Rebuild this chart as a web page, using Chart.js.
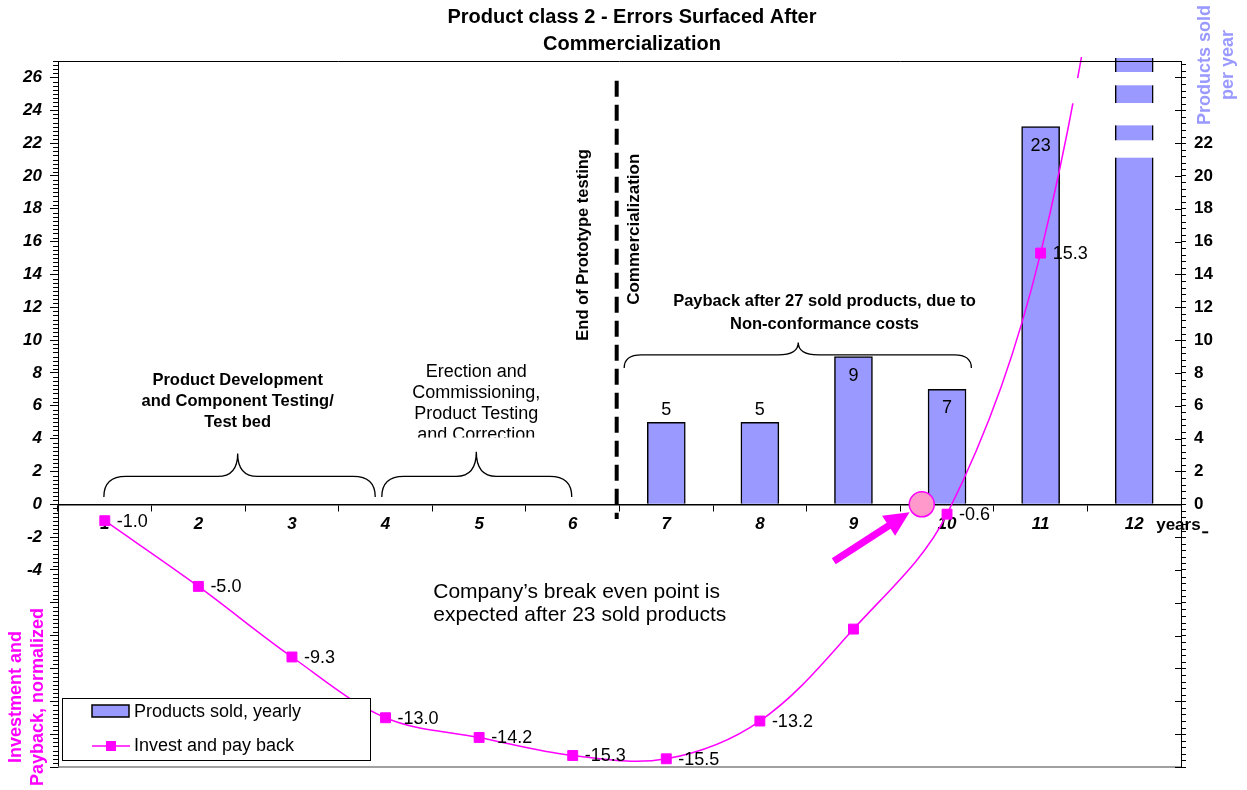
<!DOCTYPE html>
<html>
<head>
<meta charset="utf-8">
<script src="https://cdn.jsdelivr.net/npm/chart.js@4.4.1/dist/chart.umd.min.js"></script>
<style>
  html, body { margin: 0; padding: 0; background: #fff; }
  #wrap { width: 1247px; height: 790px; position: relative; }
</style>
</head>
<body>
<div id="wrap"><canvas id="chart" width="1247" height="790"></canvas></div>
<script>
// ---- data ----
const years = ['1', '2', '3', '4', '5', '6', '7', '8', '9', '10', '11', '12'];
const productsSold = [null, null, null, null, null, null, 5, 5, 9, 7, 23, 40];
const investPayback = [-1.0, -5.0, -9.3, -13.0, -14.2, -15.3, -15.5, -13.2, -7.6, -0.6, 15.3, 46];
const unlabelledYears = ['9', '12'];
const majorTicks = [-16, -14, -12, -10, -8, -6, -4, -2, 0, 2, 4, 6, 8, 10, 12, 14, 16, 18, 20, 22, 24, 26];
const leftAxisLabels = [-4, -2, 0, 2, 4, 6, 8, 10, 12, 14, 16, 18, 20, 22, 24, 26];
const rightAxisLabels = [0, 2, 4, 6, 8, 10, 12, 14, 16, 18, 20, 22];
const breakEvenYear = 9.73;

const FONT = "'Liberation Sans', Arial, Helvetica, sans-serif";
const MAGENTA = '#ff00ff';
const BAR_FILL = '#9999ff';

Chart.defaults.font.family = FONT;
Chart.defaults.color = '#000';

function drawText(ctx, s, x, y, font, color, align, baseline) {
  ctx.font = font;
  ctx.fillStyle = color || '#000';
  ctx.textAlign = align || 'center';
  ctx.textBaseline = baseline || 'middle';
  ctx.fillText(s, x, y);
}

function drawRotated(ctx, s, x, y, font, color) {
  ctx.save();
  ctx.translate(x, y);
  ctx.rotate(-Math.PI / 2);
  drawText(ctx, s, 0, 0, font, color, 'center', 'middle');
  ctx.restore();
}

// curly brace opening downwards, tip pointing up
function drawBrace(ctx, x1, x2, tipX, yBase, yMid, yTip) {
  const r = Math.min(22, (yBase - yMid) + 4);
  ctx.beginPath();
  ctx.moveTo(x1, yBase);
  ctx.quadraticCurveTo(x1, yMid, x1 + r, yMid);
  ctx.lineTo(tipX - 20, yMid);
  ctx.quadraticCurveTo(tipX, yMid, tipX, yTip);
  ctx.quadraticCurveTo(tipX, yMid, tipX + 20, yMid);
  ctx.lineTo(x2 - r, yMid);
  ctx.quadraticCurveTo(x2, yMid, x2, yBase);
  ctx.strokeStyle = '#000';
  ctx.lineWidth = 1.3;
  ctx.stroke();
}

const overlay = {
  id: 'overlay',
  afterDraw(chart) {
    const { ctx, chartArea: ca, scales } = chart;
    const xs = scales.x, ys = scales.y, ys1 = scales.y1;
    const step = xs.getPixelForValue(1) - xs.getPixelForValue(0);
    const xAt = pos => xs.getPixelForValue(0) + (pos - 1) * step;
    const yAt = v => ys.getPixelForValue(v);

    ctx.save();

    // frame: top black, bottom grey
    ctx.lineWidth = 1;
    ctx.strokeStyle = '#000';
    ctx.beginPath(); ctx.moveTo(ca.left, ca.top + 0.5); ctx.lineTo(ca.right, ca.top + 0.5); ctx.stroke();
    ctx.strokeStyle = '#808080';
    ctx.lineWidth = 1.5;
    ctx.beginPath(); ctx.moveTo(ca.left, ca.bottom); ctx.lineTo(ca.right, ca.bottom); ctx.stroke();

    // minor ticks
    ctx.strokeStyle = '#000';
    ctx.lineWidth = 1;
    for (let v = ys.min; v <= ys.max + 1e-6; v += 0.25) {
      if (Math.abs(v / 2 - Math.round(v / 2)) < 1e-6) continue;
      const py = Math.round(yAt(v)) + 0.5;
      ctx.beginPath(); ctx.moveTo(ca.left - 5, py); ctx.lineTo(ca.left, py); ctx.stroke();
    }
    for (let k = 0; ys1.min + k * 0.4 <= ys1.max + 1e-6; k++) {
      const v = ys1.min + k * 0.4;
      const py = Math.round(ys1.getPixelForValue(v)) + 0.5;
      if (k % 5 === 0) {
        ctx.beginPath(); ctx.moveTo(ca.right - 6, py); ctx.lineTo(ca.right, py); ctx.stroke();
      } else {
        ctx.beginPath(); ctx.moveTo(ca.right, py); ctx.lineTo(ca.right + 5, py); ctx.stroke();
      }
    }

    // broken bar / broken line marks for the out-of-range last year
    const barMeta = chart.getDatasetMeta(1);
    const lastBar = barMeta.data[11];
    ctx.fillStyle = '#fff';
    [[26.33, 25.52], [24.44, 23.08], [22.17, 21.11]].forEach(([a, b]) => {
      const top = ys1.getPixelForValue(a), bot = ys1.getPixelForValue(b);
      ctx.fillRect(lastBar.x - lastBar.width / 2 - 2, top, lastBar.width + 4, bot - top);
    });
    {
      const top = yAt(25.96), bot = yAt(24.42);
      ctx.fillRect(xAt(11.2), top, xAt(11.6) - xAt(11.2), bot - top);
    }

    // bar value labels
    barMeta.data.forEach((el, i) => {
      const v = productsSold[i];
      if (v == null || v > ys1.max) return;
      const inside = v >= 7;
      drawText(ctx, String(v), el.x, inside ? el.y + 19 : el.y - 12, '18px ' + FONT, '#000', 'center', 'middle');
    });

    // line value labels
    const lineMeta = chart.getDatasetMeta(0);
    lineMeta.data.forEach((el, i) => {
      if (unlabelledYears.includes(years[i])) return;
      drawText(ctx, investPayback[i].toFixed(1), el.x + 12, el.y + 1, '18px ' + FONT, '#000', 'left', 'middle');
    });

    // end of prototype testing divider
    ctx.save();
    ctx.strokeStyle = '#000';
    ctx.lineWidth = 4;
    ctx.setLineDash([16, 8]);
    ctx.beginPath();
    ctx.moveTo(xAt(6.47), yAt(25.8));
    ctx.lineTo(xAt(6.47), yAt(-0.9));
    ctx.stroke();
    ctx.restore();

    drawRotated(ctx, 'End of Prototype testing', xAt(6.12), yAt(15.8), 'bold 16.5px ' + FONT, '#000');
    drawRotated(ctx, 'Commercialization', xAt(6.66), yAt(16.75), 'bold 17px ' + FONT, '#000');

    // phase braces
    drawBrace(ctx, xAt(0.99), xAt(3.89), xAt(2.42), yAt(0.45), yAt(1.7), yAt(3.1));
    drawBrace(ctx, xAt(3.96), xAt(5.99), xAt(4.97), yAt(0.45), yAt(1.7), yAt(3.2));
    drawBrace(ctx, xAt(6.55), xAt(10.26), xAt(8.41), yAt(8.3), yAt(9.1), yAt(9.85));

    // phase captions
    ['Product Development', 'and Component Testing/', 'Test bed'].forEach((s, k) => {
      drawText(ctx, s, xAt(2.42), yAt(7.55) + k * 21, 'bold 16.5px ' + FONT, '#000');
    });
    ctx.save();
    ctx.beginPath();
    ctx.rect(xAt(3.9), yAt(9.5), xAt(6.1) - xAt(3.9), yAt(4.07) - yAt(9.5));
    ctx.clip();
    ['Erection and', 'Commissioning,', 'Product Testing', 'and Correction'].forEach((s, k) => {
      drawText(ctx, s, xAt(4.97), yAt(8.05) + k * 21, '18px ' + FONT, '#000');
    });
    ctx.restore();
    ['Payback after 27 sold products, due to', 'Non-conformance costs'].forEach((s, k) => {
      drawText(ctx, s, xAt(8.69), yAt(12.35) + k * 23, 'bold 16.5px ' + FONT, '#000');
    });

    // break-even note
    ["Company\u2019s break even point is", 'expected after 23 sold products'].forEach((s, k) => {
      drawText(ctx, s, xAt(4.51), yAt(-5.35) + k * 23, '21px ' + FONT, '#000', 'left', 'middle');
    });

    // break-even marker and arrow
    const cx = xAt(breakEvenYear), cy = yAt(0), r = 12.5;
    const tailX = cx - 88, tailY = cy + 57;
    const dx = cx - tailX, dy = cy - tailY, len = Math.hypot(dx, dy);
    const ux = dx / len, uy = dy / len;
    const tipX = cx - ux * (r + 2), tipY = cy - uy * (r + 2);
    const headLen = 25, headHalf = 12, shaftHalf = 3.6;
    const bx = tipX - ux * headLen, by = tipY - uy * headLen;
    const nx = -uy, ny = ux;
    ctx.fillStyle = MAGENTA;
    ctx.beginPath();
    ctx.moveTo(tailX + nx * shaftHalf, tailY + ny * shaftHalf);
    ctx.lineTo(bx + nx * shaftHalf, by + ny * shaftHalf);
    ctx.lineTo(bx + nx * headHalf, by + ny * headHalf);
    ctx.lineTo(tipX, tipY);
    ctx.lineTo(bx - nx * headHalf, by - ny * headHalf);
    ctx.lineTo(bx - nx * shaftHalf, by - ny * shaftHalf);
    ctx.lineTo(tailX - nx * shaftHalf, tailY - ny * shaftHalf);
    ctx.closePath();
    ctx.fill();
    ctx.beginPath();
    ctx.arc(cx, cy, r, 0, Math.PI * 2);
    ctx.fillStyle = '#ff99cc';
    ctx.fill();
    ctx.strokeStyle = MAGENTA;
    ctx.lineWidth = 1.5;
    ctx.stroke();

    // x axis unit
    drawText(ctx, 'years', xs.getPixelForValue(11) + 22, yAt(0) + 21, 'bold 17px ' + FONT, '#000', 'left', 'middle');
    ctx.strokeStyle = '#000';
    ctx.lineWidth = 2;
    ctx.beginPath(); ctx.moveTo(xs.getPixelForValue(11) + 68, yAt(0) + 28); ctx.lineTo(xs.getPixelForValue(11) + 74, yAt(0) + 28); ctx.stroke();

    // title
    ['Product class 2 - Errors Surfaced After', 'Commercialization'].forEach((s, k) => {
      drawText(ctx, s, 632, 17.5 + k * 27, 'bold 20px ' + FONT, '#000');
    });

    // axis titles
    drawRotated(ctx, 'Investment and', 16, 697, 'bold 18px ' + FONT, MAGENTA);
    drawRotated(ctx, 'Payback, normalized', 38, 697, 'bold 18px ' + FONT, MAGENTA);
    drawRotated(ctx, 'Products sold', 1205, 65, 'bold 18px ' + FONT, BAR_FILL);
    drawRotated(ctx, 'per year', 1228, 65, 'bold 18px ' + FONT, BAR_FILL);

    // legend
    const lx = ca.left + 4, ly = ca.bottom - 69, lw = 308, lh = 62;
    ctx.fillStyle = '#fff';
    ctx.fillRect(lx, ly, lw, lh);
    ctx.strokeStyle = '#000';
    ctx.lineWidth = 1;
    ctx.strokeRect(lx + 0.5, ly + 0.5, lw, lh);
    const barDs = chart.data.datasets[1], lineDs = chart.data.datasets[0];
    ctx.fillStyle = BAR_FILL;
    ctx.fillRect(lx + 30, ly + 7, 37, 12);
    ctx.lineWidth = 1.5;
    ctx.strokeRect(lx + 30, ly + 7, 37, 12);
    drawText(ctx, barDs.label, lx + 72, ly + 14, '18px ' + FONT, '#000', 'left', 'middle');
    ctx.strokeStyle = MAGENTA;
    ctx.lineWidth = 1.5;
    ctx.beginPath(); ctx.moveTo(lx + 30, ly + 48); ctx.lineTo(lx + 68, ly + 48); ctx.stroke();
    ctx.fillStyle = MAGENTA;
    ctx.fillRect(lx + 49 - 5, ly + 48 - 5, 10, 10);
    drawText(ctx, lineDs.label, lx + 72, ly + 48, '18px ' + FONT, '#000', 'left', 'middle');

    ctx.restore();
  }
};

new Chart(document.getElementById('chart'), {
  type: 'bar',
  data: {
    labels: years,
    datasets: [
      {
        type: 'line',
        label: 'Invest and pay back',
        data: investPayback,
        yAxisID: 'y',
        borderColor: MAGENTA,
        backgroundColor: MAGENTA,
        borderWidth: 1.5,
        pointStyle: 'rect',
        pointRadius: 7,
        pointBorderWidth: 1,
        tension: 0.35,
        clip: 4,
        order: 1
      },
      {
        type: 'bar',
        label: 'Products sold, yearly',
        data: productsSold,
        yAxisID: 'y1',
        backgroundColor: BAR_FILL,
        borderColor: '#000',
        borderWidth: 1.5,
        barThickness: 38,
        clip: 3,
        order: 2
      }
    ]
  },
  options: {
    responsive: false,
    animation: false,
    devicePixelRatio: 1,
    layout: { padding: { top: 61, bottom: 23, left: 0, right: 0 } },
    plugins: {
      legend: { display: false },
      title: { display: false },
      tooltip: { enabled: false }
    },
    scales: {
      x: {
        position: { y: 0 },
        offset: true,
        z: 1,
        grid: { display: true, drawOnChartArea: false, offset: true, tickLength: 6, color: '#000' },
        border: { display: true, color: '#000', width: 1.5 },
        ticks: {
          color: '#000',
          padding: 4,
          maxRotation: 0,
          autoSkip: false,
          font: { size: 17, weight: 'bold', style: 'italic' }
        }
      },
      y: {
        position: 'left',
        min: -16,
        max: 27,
        afterBuildTicks: s => { s.ticks = majorTicks.map(v => ({ value: v })); },
        afterFit: s => { s.width = 58; },
        grid: { drawOnChartArea: false, tickLength: 8, color: '#000' },
        border: { display: true, color: '#000', width: 1 },
        ticks: {
          color: '#000',
          padding: 8,
          font: { size: 17, weight: 'bold', style: 'italic' },
          callback: v => leftAxisLabels.includes(v) ? String(v) : ''
        }
      },
      y1: {
        position: 'right',
        min: -16,
        max: 27,
        afterBuildTicks: s => { s.ticks = majorTicks.map(v => ({ value: v })); },
        afterFit: s => { s.width = 66; },
        grid: { drawOnChartArea: false, tickLength: 5, color: '#000' },
        border: { display: true, color: '#000', width: 1 },
        ticks: {
          color: '#000',
          padding: 8,
          font: { size: 17, weight: 'bold' },
          callback: v => rightAxisLabels.includes(v) ? String(v) : ''
        }
      }
    }
  },
  plugins: [overlay]
});
</script>
</body>
</html>
